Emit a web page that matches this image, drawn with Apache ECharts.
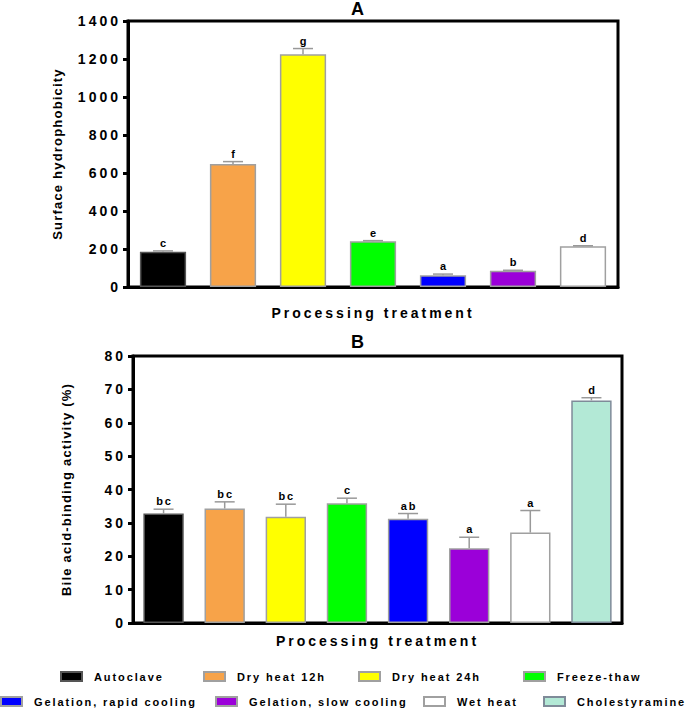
<!DOCTYPE html>
<html>
<head>
<meta charset="utf-8">
<script src="https://cdn.jsdelivr.net/npm/echarts@6/dist/echarts.min.js"></script>
<style>
  html, body { margin: 0; padding: 0; background: #fff; }
  #chart { width: 685px; height: 711px; }
</style>
</head>
<body>
<div id="chart"></div>
<script>
  // treatments (legend order)
  const treatments = ['Autoclave', 'Dry heat 12h', 'Dry heat 24h', 'Freeze-thaw',
    'Gelation, rapid cooling', 'Gelation, slow cooling', 'Wet heat', 'Cholestyramine']

  // panel A - surface hydrophobicity
  const hydroValues = [185, 648, 1225, 241, 62, 86, 215]
  const hydroErrors = [5, 12, 30, 3, 6, 2, 2]
  const hydroLetters = ['c', 'f', 'g', 'e', 'a', 'b', 'd']
  const hydroTicks = [0, 200, 400, 600, 800, 1000, 1200, 1400]

  // panel B - bile acid-binding activity (%)
  const bileValues = [32.8, 34.3, 31.8, 35.9, 31.2, 22.4, 27.1, 66.7]
  const bileErrors = [1.3, 2.0, 3.8, 1.5, 1.6, 3.3, 6.6, 0.8]
  const bileLetters = ['bc', 'bc', 'bc', 'c', 'ab', 'a', 'a', 'd']
  const bileTicks = [0, 10, 20, 30, 40, 50, 60, 70, 80]

  const barColors = ['#000000', '#f7a349', '#ffff00', '#00ff00', '#0000ff', '#9b00d9', '#ffffff', '#b3e9d6']
  const borderColors = ['#555555', '#a0a0a0', '#a0a0a0', '#a0a0a0', '#a0a0a0', '#a0a0a0', '#a0a0a0', '#7f8b99']

  const font = '"Liberation Sans", Arial, sans-serif'

  let myChart = echarts.init(document.getElementById('chart'), null, { renderer: 'svg' })

  function barSeries(values, panel) {
    return values.map((v, i) => ({
      name: treatments[i],
      type: 'bar',
      xAxisIndex: panel,
      yAxisIndex: panel,
      stack: 'panel' + panel,
      barWidth: '66%',
      data: values.map((_, j) => (j === i ? v : null)),
      itemStyle: { color: barColors[i], borderColor: borderColors[i], borderWidth: 1.5 },
      emphasis: { disabled: true },
      z: 2
    }))
  }

  function errorSeries(values, errors, letters, panel) {
    return {
      type: 'custom',
      xAxisIndex: panel,
      yAxisIndex: panel,
      encode: { x: 0, y: 1 },
      data: values.map((v, i) => [i, v, errors[i]]),
      z: 3,
      silent: true,
      renderItem: function (params, api) {
        const x = api.value(0)
        const v = api.value(1)
        const e = api.value(2)
        const base = api.coord([x, v])
        const top = api.coord([x, v + e])
        const line = { stroke: '#999999', lineWidth: 1.5 }
        return {
          type: 'group',
          children: [
            { type: 'line', shape: { x1: base[0], y1: base[1], x2: top[0], y2: top[1] }, style: line },
            { type: 'line', shape: { x1: top[0] - 10, y1: top[1], x2: top[0] + 10, y2: top[1] }, style: line },
            {
              type: 'text',
              style: {
                text: letters[params.dataIndex],
                x: top[0] + 1,
                y: top[1] - 8,
                textAlign: 'center',
                textVerticalAlign: 'middle',
                fill: '#000',
                font: 'bold 11px ' + font
              }
            }
          ]
        }
      }
    }
  }

  function yAxis(panel, ticks, name, gap) {
    return {
      type: 'value',
      gridIndex: panel,
      min: ticks[0],
      max: ticks[ticks.length - 1],
      interval: ticks[1] - ticks[0],
      name: name,
      nameLocation: 'middle',
      nameGap: gap,
      nameTextStyle: { color: '#000', fontWeight: 'bold', fontSize: 13, fontFamily: font },
      axisLine: { show: true, lineStyle: { color: '#000', width: 3 } },
      axisTick: { show: true, length: 5, lineStyle: { color: '#000', width: 3 } },
      axisLabel: {
        color: '#000', fontWeight: 'bold', fontSize: 14, fontFamily: font, margin: 10,
        formatter: (v) => String(v)
      },
      splitLine: { show: false }
    }
  }

  function xAxis(panel, count, gap) {
    return {
      type: 'category',
      gridIndex: panel,
      data: treatments.slice(0, count),
      name: 'Processing treatment',
      nameLocation: 'middle',
      nameGap: gap,
      nameTextStyle: { color: '#000', fontWeight: 'bold', fontSize: 14, fontFamily: font },
      axisLine: { show: true, lineStyle: { color: '#000', width: 3 } },
      axisTick: { show: false },
      axisLabel: { show: false }
    }
  }

  // legend: one component per item so the spaced text does not overlap
  const legendPos = [
    [60, 671], [203, 671], [358, 671], [523, 671],
    [0, 696], [215, 696], [423, 696], [543, 696]
  ]
  const legends = treatments.map((t, i) => ({
    data: [t],
    left: legendPos[i][0],
    top: legendPos[i][1],
    padding: 0,
    itemWidth: 21,
    itemHeight: 9,
    icon: 'rect',
    selectedMode: false,
    textStyle: { color: '#000', fontWeight: 'bold', fontSize: 11, fontFamily: font, padding: [0, 0, 0, 7] }
  }))

  myChart.setOption({
    animation: false,
    title: [
      { text: 'A', left: 351, top: 0, padding: 0, textStyle: { fontSize: 18, fontWeight: 'bold', color: '#000', fontFamily: font } },
      { text: 'B', left: 351, top: 333, padding: 0, textStyle: { fontSize: 18, fontWeight: 'bold', color: '#000', fontFamily: font } }
    ],
    legend: legends,
    grid: [
      { left: 128, right: 67, top: 21, height: 266, show: true, borderColor: '#000', borderWidth: 3 },
      { left: 133, right: 63, top: 356, height: 267, show: true, borderColor: '#000', borderWidth: 3 }
    ],
    xAxis: [xAxis(0, hydroValues.length, 19), xAxis(1, bileValues.length, 11)],
    yAxis: [
      yAxis(0, hydroTicks, 'Surface hydrophobicity', 64),
      yAxis(1, bileTicks, 'Bile acid-binding activity (%)', 60)
    ],
    series: [].concat(
      barSeries(hydroValues, 0),
      barSeries(bileValues, 1),
      [errorSeries(hydroValues, hydroErrors, hydroLetters, 0),
       errorSeries(bileValues, bileErrors, bileLetters, 1)]
    )
  })

  // spaced-out lettering like the original figure, by font size
  // (right-aligned tick labels are switched to start anchor and shifted back by their width)
  function spaceLetters() {
    const spacing = { 14: 3, 13: 1.2, 11: 1.9 }
    document.querySelectorAll('#chart svg text').forEach((el) => {
      const size = Math.round(parseFloat(getComputedStyle(el).fontSize))
      const s = spacing[size]
      if (!s) return
      el.style.setProperty('letter-spacing', s + 'px')
      if (el.getAttribute('text-anchor') === 'end') {
        el.setAttribute('text-anchor', 'start')
        const w = el.getComputedTextLength()
        el.setAttribute('x', String(-w + s))
      }
    })
  }
  // keep re-applying for a while in case the renderer patches the nodes again
  myChart.on('finished', spaceLetters)
  let passes = 0
  const timer = setInterval(() => {
    spaceLetters()
    if (++passes > 40) clearInterval(timer)
  }, 50)
</script>
</body>
</html>
